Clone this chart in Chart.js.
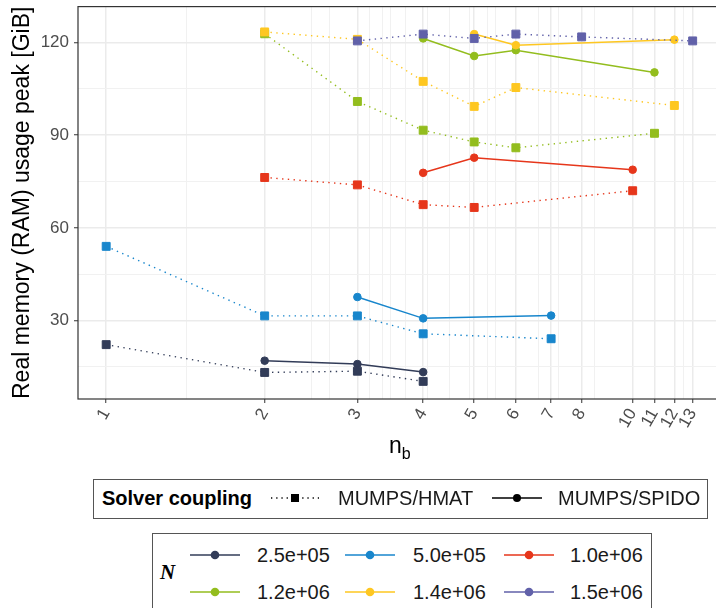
<!DOCTYPE html>
<html lang="en">
<head>
  <meta charset="utf-8">
  <title>RAM usage peak</title>
  <style>
    html, body { margin: 0; padding: 0; background: #fff; overflow: hidden; width: 716px; height: 608px; }
    body { position: relative; font-family: "Liberation Sans", Arial, sans-serif; color: #1a1a1a; }
    #wrap { position: absolute; left: 0; top: 0; width: 730px; height: 460px; }
    .abs { position: absolute; white-space: nowrap; }
    .lt { font-size: 20px; line-height: 20px; }
    .box { position: absolute; border: 1px solid #555; box-sizing: border-box; }
  </style>
</head>
<body>
  <div id="wrap"><canvas id="chart" width="730" height="460"></canvas></div>

  <div class="abs" style="left:389px; top:434px; font-size:23px; line-height:23px; color:#000;">n<sub style="font-size:16px; vertical-align:-6px;">b</sub></div>

  <div class="box" style="left:93px; top:479px; width:615px; height:40px;"></div>
  <div class="abs lt" style="left:102px; top:488px; font-weight:bold; color:#000;">Solver coupling</div>
  <svg class="abs" style="left:271px; top:492px;" width="48" height="12">
    <line x1="0" y1="6" x2="48" y2="6" stroke="#000" stroke-width="1.3" stroke-dasharray="1.3 3.9"/>
    <rect x="20" y="2" width="8" height="8" fill="#000"/>
  </svg>
  <div class="abs lt" style="left:338px; top:488px;">MUMPS/HMAT</div>
  <svg class="abs" style="left:492px; top:492px;" width="50" height="12">
    <line x1="0" y1="6" x2="50" y2="6" stroke="#000" stroke-width="1.4"/>
    <circle cx="25" cy="6" r="4" fill="#000"/>
  </svg>
  <div class="abs lt" style="left:558px; top:488px;">MUMPS/SPIDO</div>

  <div class="box" style="left:152px; top:533px; width:500px; height:100px;"></div>
  <div class="abs" style="left:160px; top:562px; font-family:'Liberation Serif','DejaVu Serif',serif; font-style:italic; font-weight:bold; font-size:21px; line-height:21px; color:#000;">N</div>
  <div id="leg2"></div>

  <script src="https://cdn.jsdelivr.net/npm/chart.js"></script>
  <script>
    // N values (legend labels)
    var nLabels = ['2.5e+05', '5.0e+05', '1.0e+06', '1.2e+06', '1.4e+06', '1.5e+06'];

    // MUMPS/HMAT (dotted, squares)
    var nbHmat250k = [1, 2, 3, 4];
    var ramHmat250k = [22.2, 13.2, 13.6, 10.3];
    var nbHmat500k = [1, 2, 3, 4, 7];
    var ramHmat500k = [54.0, 31.5, 31.5, 25.7, 24.1];
    var nbHmat1m = [2, 3, 4, 5, 10];
    var ramHmat1m = [76.3, 73.9, 67.5, 66.6, 72.0];
    var nbHmat12m = [2, 3, 4, 5, 6, 11];
    var ramHmat12m = [122.8, 100.9, 91.6, 87.8, 85.9, 90.6];
    var nbHmat14m = [2, 3, 4, 5, 6, 12];
    var ramHmat14m = [123.4, 121.0, 107.4, 99.3, 105.4, 99.6];
    var nbHmat15m = [3, 4, 5, 6, 8, 13];
    var ramHmat15m = [120.5, 122.7, 121.3, 122.7, 121.8, 120.5];

    // MUMPS/SPIDO (solid, circles)
    var nbSpido250k = [2, 3, 4];
    var ramSpido250k = [17.0, 15.9, 13.3];
    var nbSpido500k = [3, 4, 7];
    var ramSpido500k = [37.6, 30.7, 31.6];
    var nbSpido1m = [4, 5, 10];
    var ramSpido1m = [77.8, 82.7, 78.8];
    var nbSpido12m = [4, 5, 6, 11];
    var ramSpido12m = [121.3, 115.6, 117.5, 110.3];
    var nbSpido14m = [5, 6, 12];
    var ramSpido14m = [122.7, 119.1, 120.9];

    // axis ticks
    var xTickLabels = [1, 2, 3, 4, 5, 6, 7, 8, 10, 11, 12, 13];
    var xMinorGrid = [1.42, 2.45, 2.65, 3.17, 3.35, 3.47, 3.7, 4.08, 4.49, 4.9, 5.29, 5.48, 6.63, 7.22, 8.48, 12.5];
    var yTickLabels = [30, 60, 90, 120];
    var yMinorGrid = [15, 45, 75, 105];

    var colors = ['#323c58', '#1886cc', '#e6361b', '#93bd1e', '#fec721', '#6161a9'];

    function pts(nb, ram) {
      return nb.map(function (x, i) { return { x: x, y: ram[i] }; });
    }

    var hmat = [
      pts(nbHmat250k, ramHmat250k), pts(nbHmat500k, ramHmat500k), pts(nbHmat1m, ramHmat1m),
      pts(nbHmat12m, ramHmat12m), pts(nbHmat14m, ramHmat14m), pts(nbHmat15m, ramHmat15m)
    ];
    var spido = [
      pts(nbSpido250k, ramSpido250k), pts(nbSpido500k, ramSpido500k), pts(nbSpido1m, ramSpido1m),
      pts(nbSpido12m, ramSpido12m), pts(nbSpido14m, ramSpido14m), []
    ];

    var datasets = [];
    for (var k = 0; k < nLabels.length; k++) {
      datasets.push({
        label: nLabels[k] + ' HMAT', data: hmat[k], order: 20 - 2 * k,
        borderColor: colors[k], backgroundColor: colors[k], borderWidth: 1.4,
        borderDash: [1.4, 4.4], pointStyle: 'rect', pointRadius: 5.6, pointBorderWidth: 1,
        pointHoverRadius: 5.6
      });
      datasets.push({
        label: nLabels[k] + ' SPIDO', data: spido[k], order: 21 - 2 * k,
        borderColor: colors[k], backgroundColor: colors[k], borderWidth: 1.5,
        pointStyle: 'circle', pointRadius: 3.8, pointBorderWidth: 1, pointHoverRadius: 3.8
      });
    }

    var panelBorder = {
      id: 'panelBorder',
      afterDraw: function (chart) {
        var a = chart.chartArea, c = chart.ctx;
        c.save();
        c.strokeStyle = '#333333';
        c.lineWidth = 1.2;
        c.strokeRect(a.left, a.top, a.right - a.left, a.bottom - a.top);
        c.restore();
      }
    };

    function noPad(scale) {
      scale.paddingTop = 0; scale.paddingBottom = 0;
      scale.paddingLeft = 0; scale.paddingRight = 0;
    }

    var tickFont = { family: '"Liberation Sans", Arial, sans-serif', size: 17 };

    new Chart(document.getElementById('chart').getContext('2d'), {
      type: 'line',
      data: { datasets: datasets },
      plugins: [panelBorder],
      options: {
        responsive: false,
        animation: false,
        layout: { padding: { top: 4, right: 8, left: 0, bottom: 0 } },
        plugins: { legend: { display: false }, tooltip: { enabled: false } },
        scales: {
          x: {
            type: 'logarithmic',
            min: 0.884, max: 14.78,
            afterBuildTicks: function (scale) {
              var t = xTickLabels.map(function (v) { return { value: v, major: true }; })
                .concat(xMinorGrid.map(function (v) { return { value: v, major: false }; }));
              t.sort(function (a, b) { return a.value - b.value; });
              scale.ticks = t;
            },
            afterFit: function (scale) { scale.height = 61; noPad(scale); },
            border: { display: false },
            grid: {
              color: function (c) { return c.tick && c.tick.major ? '#ebebeb' : '#f1f1f1'; },
              lineWidth: function (c) { return c.tick && c.tick.major ? 1.5 : 1; },
              tickColor: function (c) { return c.tick && c.tick.major ? '#333333' : 'rgba(0,0,0,0)'; },
              tickLength: 4, tickWidth: 1
            },
            ticks: {
              autoSkip: false, minRotation: 60, maxRotation: 60, padding: 2,
              color: '#4d4d4d', font: tickFont,
              callback: function (v) { return xTickLabels.indexOf(v) >= 0 ? String(v) : ''; }
            }
          },
          y: {
            min: 4.6, max: 131.6,
            afterBuildTicks: function (scale) {
              var t = yTickLabels.map(function (v) { return { value: v, major: true }; })
                .concat(yMinorGrid.map(function (v) { return { value: v, major: false }; }));
              t.sort(function (a, b) { return a.value - b.value; });
              scale.ticks = t;
            },
            afterFit: function (scale) { scale.width = 78; noPad(scale); },
            border: { display: false },
            grid: {
              color: function (c) { return c.tick && c.tick.major ? '#ebebeb' : '#f1f1f1'; },
              lineWidth: function (c) { return c.tick && c.tick.major ? 1.5 : 1; },
              tickColor: function (c) { return c.tick && c.tick.major ? '#333333' : 'rgba(0,0,0,0)'; },
              tickLength: 4, tickWidth: 1
            },
            ticks: {
              padding: 5, color: '#4d4d4d', font: tickFont,
              callback: function (v) { return yTickLabels.indexOf(v) >= 0 ? String(v) : ''; }
            },
            title: {
              display: true, text: 'Real memory (RAM) usage peak [GiB]', color: '#000',
              font: { family: '"Liberation Sans", Arial, sans-serif', size: 23 },
              padding: { top: 9, bottom: 0 }
            }
          }
        }
      }
    });

    // legend for N (HTML, real text)
    var legX = [190, 345, 504];
    var txtX = [257, 413, 570];
    var rowY = [555, 592];
    var html = '';
    for (var i = 0; i < nLabels.length; i++) {
      var col = i % 3, row = Math.floor(i / 3);
      html += '<svg class="abs" style="left:' + legX[col] + 'px; top:' + (rowY[row] - 6) + 'px;" width="50" height="12">' +
        '<line x1="0" y1="6" x2="50" y2="6" stroke="' + colors[i] + '" stroke-width="1.5"/>' +
        '<circle cx="25" cy="6" r="4.3" fill="' + colors[i] + '"/></svg>';
      html += '<div class="abs lt" style="left:' + txtX[col] + 'px; top:' + (rowY[row] - 10) + 'px;">' + nLabels[i] + '</div>';
    }
    document.getElementById('leg2').innerHTML = html;
  </script>
</body>
</html>
